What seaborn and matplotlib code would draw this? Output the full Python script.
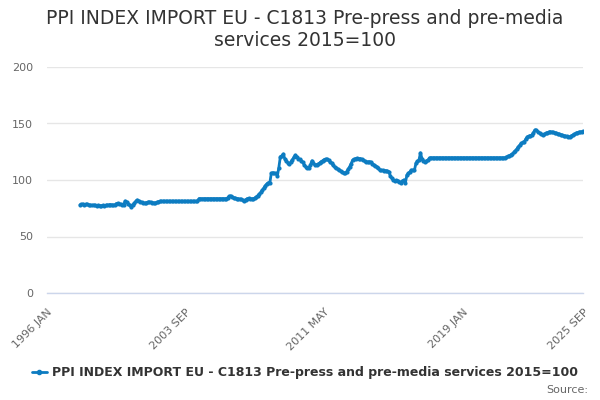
import matplotlib
matplotlib.use('Agg')
import matplotlib.pyplot as plt
from matplotlib.lines import Line2D
import seaborn as sns
import pandas as pd

# Monthly index values, 1997 NOV .. 2025 SEP
values = (
    [78.0, 78.5]  # 1997 NOV-DEC
    + [78.7, 78.3, 78.6, 78.4, 78.0, 77.8, 77.6, 77.9, 77.5, 77.3, 77.6, 77.4]  # 1998
    + [77.2, 77.5, 77.3, 77.6, 77.8, 77.9, 78.3, 78.1, 77.8, 77.6, 79.0, 79.4]  # 1999
    + [79.0, 78.6, 78.2, 78.0, 81.4, 80.5, 79.0, 77.5, 76.4, 77.8, 79.5, 81.0]  # 2000
    + [82.3, 81.5, 80.8, 80.2, 79.8, 79.6, 79.9, 80.4, 80.6, 80.3, 80.0, 79.8]  # 2001
    + [79.7, 80.2, 80.8, 81.2, 81.2, 81.2, 81.2, 81.2, 81.2, 81.2, 81.2, 81.2]  # 2002
    + [81.2, 81.2, 81.2, 81.2, 81.2, 81.2, 81.2, 81.2, 81.2, 81.2, 81.2, 81.2]  # 2003
    + [81.2, 81.2, 81.2, 81.2, 81.2, 83.5, 83.5, 83.5, 83.5, 83.5, 83.5, 83.5]  # 2004
    + [83.5, 83.5, 83.5, 83.5, 83.5, 83.5, 83.5, 83.5, 83.5, 83.5, 83.5, 83.5]  # 2005
    + [84.2, 85.5, 86.0, 85.2, 84.3, 84.0, 83.6, 83.4, 83.2, 82.8, 82.2, 81.6]  # 2006
    + [82.5, 83.5, 83.7, 83.6, 83.4, 83.5, 84.0, 85.0, 86.2, 87.6, 89.0, 91.0]  # 2007
    + [92.8, 95.0, 96.5, 97.5, 97.2, 106.0, 106.5, 105.8, 106.0, 103.5, 111.0, 120.6]  # 2008
    + [121.5, 123.0, 118.6, 117.0, 115.2, 114.0, 116.0, 118.0, 120.0, 122.0, 120.5, 118.6]  # 2009
    + [118.2, 117.0, 115.5, 113.0, 111.5, 110.5, 110.3, 113.5, 117.0, 115.0, 113.3, 113.6]  # 2010
    + [114.0, 115.0, 116.2, 117.0, 118.0, 118.6, 118.2, 117.5, 116.0, 115.0, 113.0, 111.5]  # 2011
    + [110.5, 109.8, 108.8, 108.0, 107.0, 106.0, 106.5, 107.4, 109.5, 111.8, 114.5, 117.7]  # 2012
    + [118.3, 119.0, 119.2, 118.8, 119.0, 118.4, 117.7, 116.8, 116.2, 116.0, 116.2, 116.0]  # 2013
    + [114.5, 113.5, 112.5, 111.8, 110.3, 108.8, 108.6, 108.5, 108.4, 108.3, 107.8, 107.4]  # 2014
    + [103.5, 101.5, 100.2, 99.4, 99.6, 99.4, 98.5, 97.6, 99.0, 100.0, 97.6, 104.4]  # 2015
    + [105.8, 107.2, 108.8, 108.8, 108.8, 114.8, 116.5, 117.7, 124.0, 119.0, 117.0, 116.0]  # 2016
    + [117.0, 117.7, 119.7, 119.7, 119.7, 119.7, 119.7, 119.7, 119.7, 119.7, 119.7, 119.7]  # 2017
    + [119.7, 119.7, 119.7, 119.7, 119.7, 119.7, 119.7, 119.7, 119.7, 119.7, 119.7, 119.7]  # 2018
    + [119.7, 119.7, 119.7, 119.7, 119.7, 119.7, 119.7, 119.7, 119.7, 119.7, 119.7, 119.7]  # 2019
    + [119.7, 119.7, 119.7, 119.7, 119.7, 119.7, 119.7, 119.7, 119.7, 119.7, 119.7, 119.7]  # 2020
    + [119.7, 119.7, 119.7, 119.7, 119.7, 120.3, 121.0, 121.5, 122.3, 123.2, 124.5, 126.0]  # 2021
    + [127.5, 129.5, 131.0, 132.5, 133.2, 134.0, 136.5, 138.3, 138.8, 139.2, 139.8, 142.0]  # 2022
    + [144.3, 144.0, 142.8, 141.5, 140.5, 139.8, 140.5, 141.3, 141.8, 142.3, 142.8, 142.5]  # 2023
    + [142.2, 142.0, 141.6, 141.0, 140.7, 140.2, 139.8, 139.3, 139.0, 138.5, 137.8, 138.2]  # 2024
    + [139.0, 139.8, 140.5, 141.2, 141.9, 142.3, 142.5, 142.8, 143.0]  # 2025 JAN-SEP
)

axis_start = '1996-01'
axis_end = '2025-09'
tick_step = 23
y_ticks = [0, 50, 100, 150, 200]
title = 'PPI INDEX IMPORT EU - C1813 Pre-press and pre-media services 2015=100'
series_name = title

line_color = '#0d7cc1'

# Категориальная ось: все месяцы от начала оси
months = pd.date_range(axis_start, axis_end, freq='MS')
labels = [d.strftime('%Y %b').upper() for d in months]
dates = pd.date_range('1997-11', periods=len(values), freq='MS')
df = pd.DataFrame({'date': dates, 'value': values})
df['pos'] = [months.get_loc(d) for d in df['date']]

sns.set_style('white')
plt.rcParams['font.family'] = ['DejaVu Sans']

fig = plt.figure(figsize=(6, 4), dpi=100)
ax = fig.add_axes([0.078, 0.2675, 0.894, 0.565])

sns.lineplot(data=df, x='pos', y='value', ax=ax, color=line_color,
             linewidth=2, marker='o', markersize=3, markeredgewidth=0)

n = len(months) - 1
ax.set_xlim(0, n)
ax.set_ylim(0, 200)
ax.set_yticks(y_ticks)
ax.set_ylabel('')
ax.set_xlabel('')

ticks = list(range(0, n - tick_step, tick_step)) + [n]
ax.set_xticks(ticks)
label_at = {0, 92, 184, 276, n}
ax.set_xticklabels([labels[t] if t in label_at else '' for t in ticks],
                   rotation=45, ha='right', rotation_mode='anchor',
                   color='#666666', fontsize=8)
ax.tick_params(axis='x', length=8, width=1, color='#ccd6eb', pad=2)
ax.tick_params(axis='y', length=0, labelcolor='#666666', labelsize=8, pad=10)

ax.grid(axis='y', color='#e6e6e6', linewidth=1)
ax.set_axisbelow(True)
for side in ['top', 'right', 'left']:
    ax.spines[side].set_visible(False)
ax.spines['bottom'].set_color('#ccd6eb')
ax.spines['bottom'].set_linewidth(1)

fig.text(0.508, 0.978, 'PPI INDEX IMPORT EU - C1813 Pre-press and pre-media\nservices 2015=100',
         ha='center', va='top', fontsize=13.5, color='#333333', linespacing=1.2)

handle = Line2D([0], [0], color=line_color, linewidth=2, marker='o', markersize=3)
fig.legend([handle], [series_name], loc='center', bbox_to_anchor=(0.508, 0.068),
           frameon=False, fontsize=9, handlelength=1.2, handletextpad=0.4,
           prop={'weight': 'bold', 'size': 9})
for t in fig.legends[0].get_texts():
    t.set_color('#333333')

fig.text(0.98, 0.025, 'Source:', ha='right', va='center', fontsize=8, color='#666666')

fig.savefig('out.png', dpi=100)
